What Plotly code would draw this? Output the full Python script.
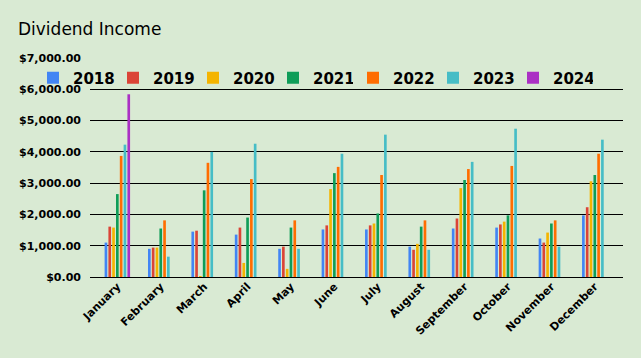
import plotly.graph_objects as go

months = ["January", "February", "March", "April", "May", "June", "July",
          "August", "September", "October", "November", "December"]
years = ["2018", "2019", "2020", "2021", "2022", "2023", "2024"]
colors = ["#4285F4", "#DB4437", "#F4B400", "#0F9D58", "#FF6D01", "#46BDC6", "#AB30C4"]

v2018 = [1100, 900, 1450, 1355, 900, 1520, 1520, 970, 1550, 1580, 1230, 1970]
v2019 = [1610, 940, 1480, 1580, 970, 1650, 1650, 870, 1870, 1680, 1100, 2230]
v2020 = [1580, 940, 30, 450, 260, 2810, 1710, 1060, 2840, 1770, 1420, 3060]
v2021 = [2650, 1550, 2770, 1900, 1580, 3320, 2030, 1610, 3100, 1970, 1710, 3260]
v2022 = [3870, 1810, 3650, 3130, 1810, 3520, 3260, 1810, 3450, 3550, 1810, 3940]
v2023 = [4230, 650, 4000, 4260, 900, 3940, 4550, 870, 3680, 4740, 970, 4390]
v2024 = [5840, None, None, None, None, None, None, None, None, None, None, None]

series = [v2018, v2019, v2020, v2021, v2022, v2023, v2024]
ytick_vals = [0, 1000, 2000, 3000, 4000, 5000, 6000, 7000]
ytick_text = ["$0.00", "$1,000.00", "$2,000.00", "$3,000.00", "$4,000.00",
              "$5,000.00", "$6,000.00", "$7,000.00"]

fig = go.Figure()
for i, (name, vals, col) in enumerate(zip(years, series, colors)):
    fig.add_trace(go.Bar(name=name, x=months, y=vals, marker_color=col,
                         marker_line_width=0,
                         legend="legend" if i < 4 else "legend2"))

bg = "#D9EAD3"
legend_font = dict(family="DejaVu Sans", size=15, color="#000000", weight="bold")
W, H = 641, 358
fig.update_layout(
    width=W, height=H,
    paper_bgcolor=bg, plot_bgcolor=bg,
    margin=dict(l=90, r=18, t=58, b=81, autoexpand=False),
    barmode="group", bargap=0.387, bargroupgap=0.3,
    title=dict(text="Dividend Income", x=18/W, xanchor="left",
               xref="container", y=1-29/H, yanchor="middle",
               font=dict(family="DejaVu Sans", size=17, color="#000000")),
    showlegend=True,
    legend=dict(orientation="h", xref="container", yref="container",
                x=33/W, xanchor="left", y=1-78/H, yanchor="middle",
                bgcolor="rgba(0,0,0,0)", font=legend_font,
                entrywidth=35, traceorder="normal"),
    legend2=dict(orientation="h", xref="container", yref="container",
                 x=353/W, xanchor="left", y=1-78/H, yanchor="middle",
                 bgcolor="rgba(0,0,0,0)", font=legend_font,
                 entrywidth=35, traceorder="normal"),
    font=dict(family="DejaVu Sans", color="#000000"),
)
fig.update_yaxes(range=[0, 7000], tickvals=ytick_vals, ticktext=ytick_text,
                 showgrid=True, gridcolor="#000000", gridwidth=1,
                 zeroline=True, zerolinecolor="#000000", zerolinewidth=1,
                 ticks="", ticklabelstandoff=8,
                 tickfont=dict(family="DejaVu Sans", size=11, color="#000000", weight="bold"))
fig.update_xaxes(range=[-0.63, 11.65], tickangle=-45, showgrid=False, ticks="",
                 showline=False,
                 tickfont=dict(family="DejaVu Sans", size=11, color="#000000", weight="bold"))

fig.write_html("out.html", config={"displayModeBar": False},
               post_script="document.body.style.margin='0';")
